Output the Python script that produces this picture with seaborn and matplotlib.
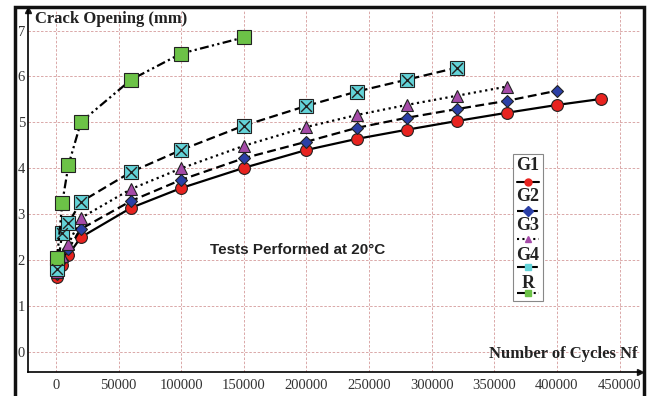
import numpy as np
import pandas as pd
import seaborn as sns
import matplotlib.pyplot as plt
from matplotlib.patches import Rectangle

sns.set_theme(style="white")
plt.rcParams['font.family'] = ['Liberation Serif', 'DejaVu Serif']

# data
cycles = [1000, 5000, 10000, 20000, 60000, 100000, 150000, 200000,
          240000, 280000, 320000, 360000, 400000, 435000]
g1 = [1.63, 1.90, 2.12, 2.50, 3.14, 3.57, 4.01, 4.40, 4.64, 4.84, 5.03, 5.21, 5.38, 5.51]
g2 = [1.70, 2.00, 2.25, 2.68, 3.29, 3.75, 4.22, 4.58, 4.88, 5.10, 5.29, 5.47, 5.69]
g3 = [1.75, 2.10, 2.35, 2.92, 3.55, 4.00, 4.49, 4.90, 5.16, 5.38, 5.58, 5.78]
g4 = [1.80, 2.59, 2.81, 3.27, 3.92, 4.40, 4.93, 5.36, 5.67, 5.93, 6.19]
r = [2.05, 3.24, 4.07, 5.01, 5.93, 6.50, 6.85]

series = {"G1": g1, "G2": g2, "G3": g3, "G4": g4, "R": r}
frames = []
for name, vals in series.items():
    frames.append(pd.DataFrame({"cycles": cycles[:len(vals)], "opening": vals, "group": name}))
df = pd.concat(frames, ignore_index=True)

styles = {
    "G1": dict(color="#E8231F", marker="o", ls="-", ms=8.5),
    "G2": dict(color="#2B3FA6", marker="D", ls=(0, (4, 2)), ms=6.5),
    "G3": dict(color="#A54BA8", marker="^", ls=(0, (1, 1.6)), ms=9),
    "G4": dict(color="#63D3D8", marker="s", ls=(0, (4, 2)), ms=10),
    "R": dict(color="#6CC247", marker="s", ls=(0, (4, 1.5, 1, 1.5, 1, 1.5)), ms=10),
}

fig = plt.figure(figsize=(6.48, 3.96), dpi=100)
ax = fig.add_axes([0.043, 0.06, 0.945, 0.915])

for name in ["G1", "G2", "G3", "G4", "R"]:
    st = styles[name]
    sub = df[df["group"] == name]
    sns.lineplot(data=sub, x="cycles", y="opening", ax=ax, color="black",
                 linestyle=st["ls"], lw=1.6, marker=st["marker"], markersize=st["ms"],
                 markerfacecolor=st["color"], markeredgecolor="#222222",
                 markeredgewidth=0.8, zorder=3)
    if name == "G4":
        sns.scatterplot(data=sub, x="cycles", y="opening", ax=ax, marker="x",
                        s=60, color="#222222", linewidth=1.0, zorder=4)

ax.set_xlim(-22400, 466500)
ax.set_ylim(-0.44, 7.45)
ax.set_xticks(np.arange(0, 450001, 50000))
ax.set_yticks(np.arange(0, 8, 1))
ax.set_xticklabels([str(v) for v in range(0, 450001, 50000)], fontsize=10.5)
ax.set_yticklabels([str(v) for v in range(0, 8)], fontsize=10.5)
ax.set_xlabel("")
ax.set_ylabel("")
ax.grid(True, color="#D49A9A", ls=(0, (3, 2)), lw=0.6)
ax.tick_params(axis="x", direction="out", length=3, pad=2, colors="#333333")
ax.tick_params(axis="y", direction="in", length=3, pad=2, colors="#333333")
for s in ["top", "right"]:
    ax.spines[s].set_visible(False)
for s in ["left", "bottom"]:
    ax.spines[s].set_color("black")
    ax.spines[s].set_linewidth(1.2)
ax.plot(1, 0, ">k", transform=ax.transAxes, clip_on=False, ms=5)
ax.plot(0, 1, "^k", transform=ax.transAxes, clip_on=False, ms=5)

ax.text(0.012, 0.975, "Crack Opening (mm)", transform=ax.transAxes, fontsize=12,
        fontweight="bold", ha="left", va="center", color="#222222")
ax.text(0.995, 0.028, "Number of Cycles Nf", transform=ax.transAxes, fontsize=12,
        fontweight="bold", ha="right", va="bottom", color="#222222")
ax.text(123000, 2.22, "Tests Performed at 20°C", fontsize=11, fontweight="bold",
        family=["Liberation Sans", "DejaVu Sans"], ha="left", va="center", color="#222222")

# legend with labels above handles
lx0, lx1 = 513, 543
ly0, ly1 = 154, 301
def fx(px):
    return px / 648
def fy(py):
    return 1 - py / 396
fig.patches.append(Rectangle((fx(lx0), fy(ly1)), fx(lx1) - fx(lx0), fy(ly0) - fy(ly1),
                             transform=fig.transFigure, facecolor="white",
                             edgecolor="#888888", lw=0.8, zorder=5))
entries = [("G1", 166, 182), ("G2", 196, 211), ("G3", 226, 239), ("G4", 256, 267), ("R", 283, 293)]
for name, ty, hy in entries:
    st = styles[name]
    fig.text(fx(528), fy(ty), name, fontsize=13, fontweight="bold", ha="center",
             va="center", color="#222222", zorder=6)
    fig.add_artist(plt.Line2D([fx(517), fx(539)], [fy(hy), fy(hy)], transform=fig.transFigure,
                              color="black", ls=st["ls"], lw=1.5, zorder=6))
    fig.add_artist(plt.Line2D([fx(528)], [fy(hy)], transform=fig.transFigure, marker=st["marker"],
                              ms=5, color=st["color"], markeredgecolor=st["color"], zorder=7))

# outer frame
fig.patches.append(Rectangle((fx(15), -0.05), fx(644) - fx(15), fy(7) + 0.05,
                             transform=fig.transFigure, fill=False, edgecolor="#111111",
                             lw=2.5, zorder=10))

fig.savefig("out.png", dpi=100)
